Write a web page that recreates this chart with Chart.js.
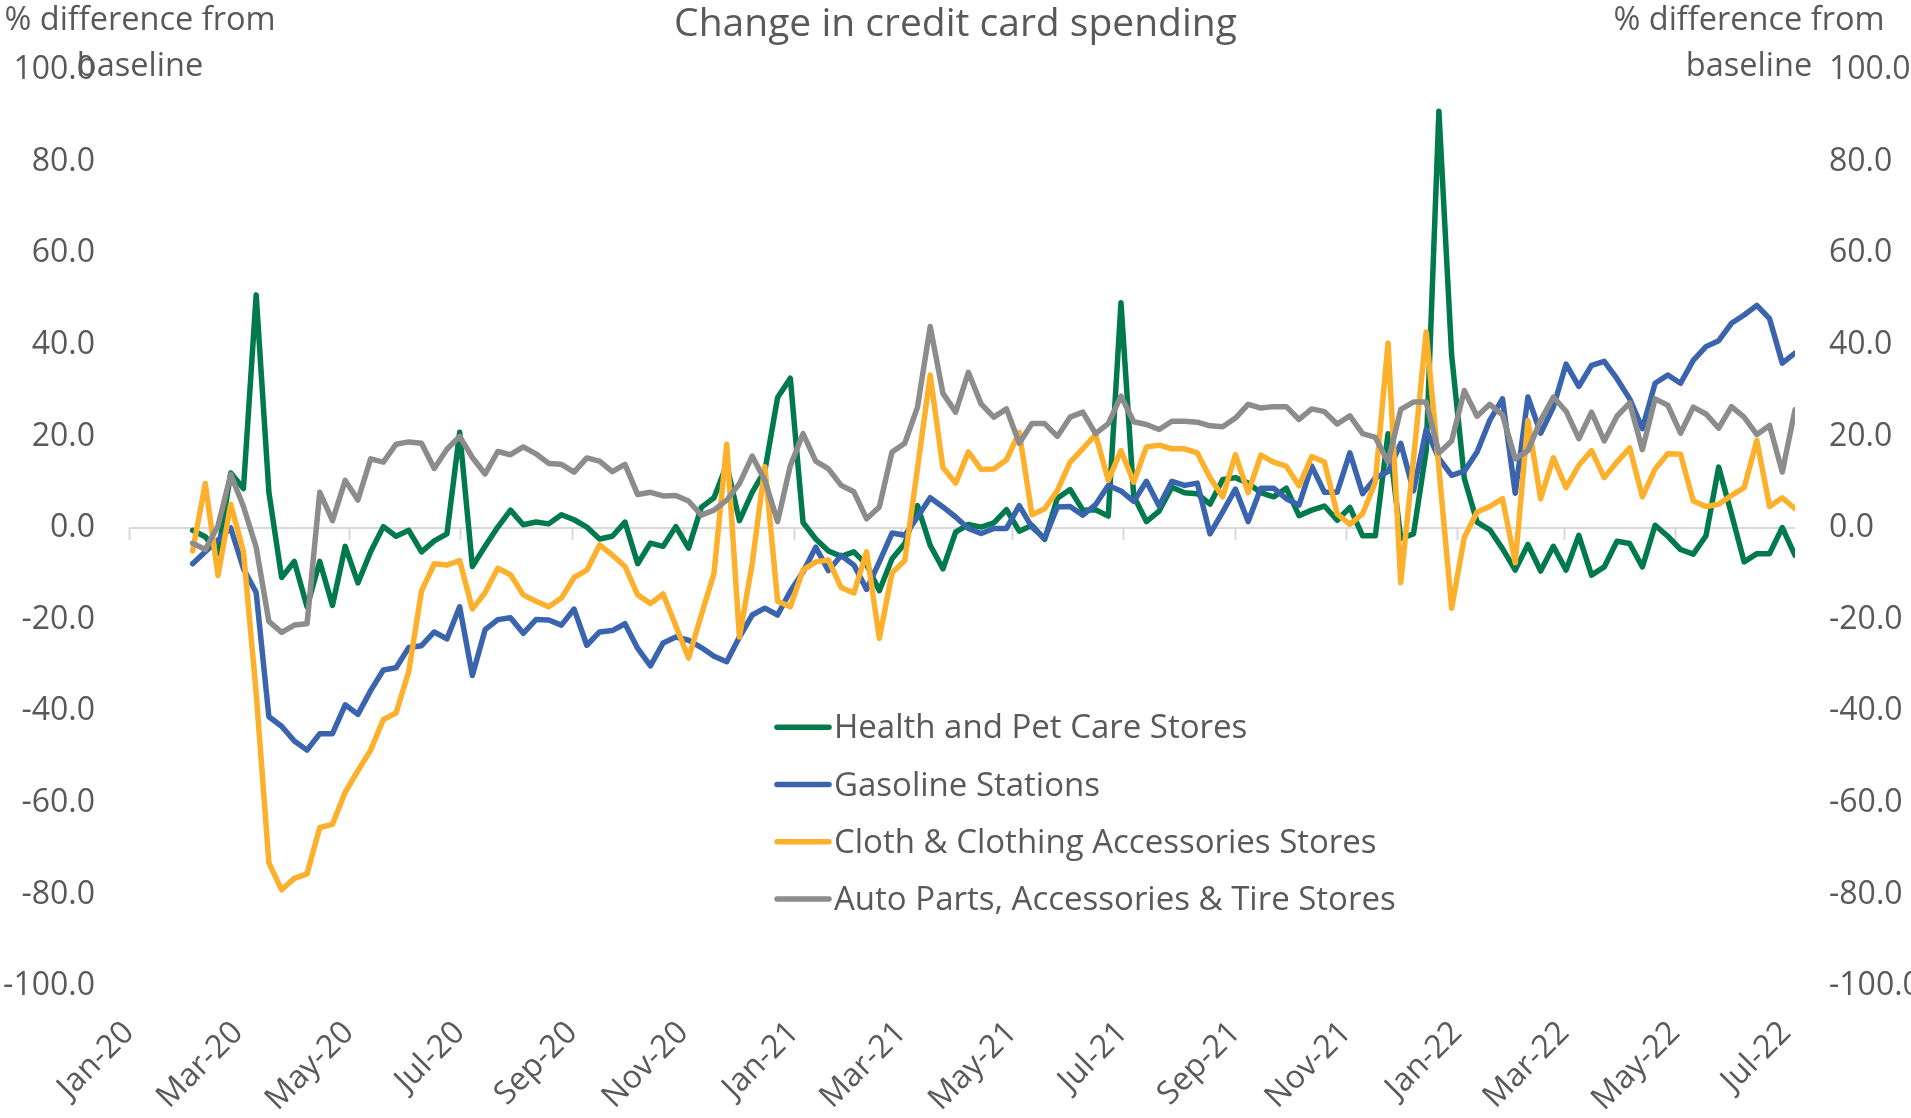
<!DOCTYPE html>
<html>
<head>
<meta charset="utf-8">
<script src="https://cdn.jsdelivr.net/npm/chart.js@4.4.1/dist/chart.umd.min.js"></script>
<style>
html,body{margin:0;padding:0;background:#ffffff;}
#wrap{width:1911px;height:1118px;position:relative;}
</style>
</head>
<body>
<div id="wrap"><canvas id="c"></canvas></div>
<script>
const chartTitle = 'Change in credit card spending';
const axisTitleLines = ['% difference from', 'baseline'];
const firstWeek = '2020-02-05';
const tickLabels = ['Jan-20','Mar-20','May-20','Jul-20','Sep-20','Nov-20','Jan-21','Mar-21','May-21','Jul-21','Sep-21','Nov-21','Jan-22','Mar-22','May-22','Jul-22'];
const yTicks = [-100,-80,-60,-40,-20,0,20,40,60,80,100];
const seriesNames = ['Health and Pet Care Stores','Gasoline Stations','Cloth & Clothing Accessories Stores','Auto Parts, Accessories & Tire Stores'];

const health = [-0.5,-1.9,-5.5,12.0,8.6,50.9,7.8,-10.8,-7.3,-17.2,-7.3,-16.9,-4.0,-12.0,-5.2,0.3,-1.8,-0.5,-5.2,-2.8,
  -1.3,20.9,-8.4,-4.0,0.2,3.9,0.7,1.3,0.9,2.9,1.8,0.2,-2.4,-1.8,1.3,-7.8,-3.3,-4.0,0.3,-4.4,
  4.5,6.6,13.8,1.6,7.8,12.5,28.5,32.7,1.2,-2.4,-5.0,-6.2,-5.2,-8.0,-13.7,-6.7,-3.4,4.9,-3.8,-8.9,
  -0.9,0.8,0.2,1.1,4.0,-0.7,0.6,-2.5,6.5,8.4,3.9,4.0,2.6,49.2,7.0,1.4,3.7,8.9,7.7,7.5,
  5.2,10.6,11.0,9.8,7.7,6.8,8.7,2.7,3.9,4.8,1.7,4.5,-1.7,-1.7,20.6,-2.3,-1.3,16.9,91.0,37.7,
  10.8,1.3,-0.4,-4.5,-9.2,-3.6,-9.4,-4.0,-9.2,-1.6,-10.3,-8.5,-2.9,-3.4,-8.5,0.6,-1.8,-4.7,-5.7,-1.7,
  13.3,3.1,-7.4,-5.6,-5.6,0.1,-6.0];
const gasoline = [-7.8,-5.2,-2.6,0.0,-8.9,-14.1,-41.2,-43.3,-46.5,-48.5,-44.9,-44.9,-38.6,-40.7,-35.5,-31.0,-30.5,-26.1,-25.7,-22.7,
  -24.2,-17.2,-32.2,-22.2,-20.0,-19.6,-23.0,-20.0,-20.1,-21.2,-17.7,-25.6,-22.7,-22.4,-20.9,-26.3,-30.1,-25.1,-23.8,-24.5,
  -26.1,-28.0,-29.2,-23.8,-19.0,-17.5,-19.0,-13.8,-9.6,-4.2,-9.3,-6.0,-8.1,-13.4,-7.4,-1.1,-1.6,2.4,6.6,4.6,
  2.4,-0.1,-1.2,-0.1,-0.1,4.9,0.2,-2.3,4.6,4.7,2.8,5.1,9.3,8.1,5.8,10.2,4.8,10.2,9.3,9.8,
  -1.3,3.5,8.5,1.4,8.7,8.7,6.4,5.0,13.5,7.8,7.8,16.4,7.5,10.9,12.3,18.5,8.1,21.5,15.2,11.5,
  12.4,16.6,23.5,28.2,7.6,28.6,20.7,26.4,35.8,30.9,35.5,36.4,32.6,28.2,21.7,31.6,33.4,31.6,36.6,39.6,
  40.9,44.7,46.5,48.6,45.7,36.0,38.2];
const clothing = [-5.0,9.7,-10.4,5.2,-5.2,-36.0,-73.1,-79.0,-76.5,-75.5,-65.4,-64.7,-57.7,-53.0,-48.5,-41.8,-40.4,-31.3,-13.8,-7.8,
  -8.1,-7.1,-17.7,-14.1,-8.8,-10.2,-14.6,-16.0,-17.2,-15.3,-10.8,-9.2,-3.7,-5.9,-8.4,-14.6,-16.5,-14.4,-21.4,-28.4,
  -19.0,-9.9,18.3,-23.8,-7.8,13.4,-16.0,-17.2,-9.2,-7.4,-7.0,-13.0,-14.2,-5.2,-24.1,-9.8,-7.1,13.0,33.4,13.2,
  9.8,16.6,12.8,12.9,14.9,20.9,2.9,4.2,8.2,14.4,17.3,20.4,10.4,16.9,10.0,17.7,18.1,17.3,17.3,16.4,
  11.0,6.8,16.0,7.7,15.9,14.4,13.5,9.2,15.6,14.4,3.1,0.8,3.1,10.0,40.4,-11.9,15.0,42.8,13.0,-17.5,
  -2.0,3.5,4.7,6.4,-7.6,23.5,6.4,15.3,8.8,13.7,16.9,11.0,14.4,17.5,6.8,12.9,16.2,16.1,5.9,4.7,
  5.2,7.1,8.8,19.1,4.7,6.6,4.2];
const autoParts = [-3.3,-4.7,0.5,11.7,4.7,-4.2,-20.4,-22.8,-21.2,-20.9,7.8,1.6,10.4,6.1,15.1,14.4,18.3,18.8,18.5,13.0,
  17.2,20.0,15.4,11.8,16.7,16.0,17.7,16.2,14.1,13.9,12.2,15.3,14.6,12.3,13.9,7.3,7.8,7.0,7.1,5.9,
  2.8,3.9,6.1,9.7,15.7,10.4,1.4,13.6,20.6,14.6,12.9,9.3,7.9,2.0,4.6,16.6,18.5,26.4,44.0,29.4,
  25.3,34.0,27.1,24.2,26.0,18.5,22.8,22.8,20.0,24.2,25.3,20.6,22.8,28.8,23.2,22.6,21.5,23.3,23.3,23.1,
  22.3,22.1,24.0,27.0,26.2,26.5,26.5,23.7,26.0,25.4,22.7,24.5,20.6,19.8,14.4,25.9,27.5,27.5,16.4,19.0,
  30.0,24.4,27.0,24.7,15.1,16.9,23.5,28.6,25.5,19.5,25.3,19.0,24.4,27.3,17.1,28.2,26.8,20.7,26.4,24.9,
  21.8,26.5,24.2,20.4,22.4,12.2,25.8];

const seriesColors = ['#00794C', '#3A64AE', '#FDB02B', '#8C8C8C'];
const seriesValues = [health, gasoline, clothing, autoParts];

const DAY = 86400000;
const epoch = Date.UTC(2020, 0, 1);
const monthIdx = {Jan:0,Feb:1,Mar:2,Apr:3,May:4,Jun:5,Jul:6,Aug:7,Sep:8,Oct:9,Nov:10,Dec:11};
const tickDays = tickLabels.map(l => {
  const [m, y] = l.split('-');
  return (Date.UTC(2000 + Number(y), monthIdx[m], 1) - epoch) / DAY;
});
const startDay = (Date.parse(firstWeek + 'T00:00:00Z') - epoch) / DAY;
const weekDays = health.map((_, i) => startDay + 7 * i);
const lastDay = weekDays[weekDays.length - 1];

const FONT = "'Open Sans', 'Noto Sans', sans-serif";
const TEXT = '#595959';

const overlayPlugin = {
  id: 'overlay',
  beforeDatasetsDraw(chart) {
    const ctx = chart.ctx;
    const xs = chart.scales.x, ys = chart.scales.y;
    const y0 = ys.getPixelForValue(0);
    ctx.save();
    ctx.strokeStyle = '#D9D9D9';
    ctx.lineWidth = 2;
    ctx.beginPath();
    ctx.moveTo(xs.left, y0);
    ctx.lineTo(xs.right, y0);
    tickDays.forEach(d => {
      const px = Math.round(xs.getPixelForValue(d)) + 0.5;
      ctx.moveTo(px, y0);
      ctx.lineTo(px, y0 + 12);
    });
    ctx.stroke();
    ctx.restore();
  },
  afterDraw(chart) {
    const ctx = chart.ctx;
    ctx.save();
    ctx.fillStyle = TEXT;
    ctx.textBaseline = 'alphabetic';
    ctx.textAlign = 'center';
    // chart title
    ctx.font = '39px ' + FONT;
    ctx.fillText(chartTitle, chart.width / 2, 36);
    // axis titles (left and right)
    ctx.font = '32.5px ' + FONT;
    [140, 1749].forEach(cx => {
      ctx.fillText(axisTitleLines[0], cx, 29.5);
      ctx.fillText(axisTitleLines[1], cx, 76);
    });
    // legend inside plot area
    ctx.font = '33px ' + FONT;
    ctx.textAlign = 'left';
    seriesNames.forEach((name, i) => {
      const y = 727.3 + i * 57.2;
      ctx.strokeStyle = seriesColors[i];
      ctx.lineWidth = 5.5;
      ctx.lineCap = 'round';
      ctx.beginPath();
      ctx.moveTo(777, y);
      ctx.lineTo(829, y);
      ctx.stroke();
      ctx.fillStyle = TEXT;
      ctx.fillText(name, 834, y + 11);
    });
    ctx.restore();
  }
};

const datasets = seriesNames.map((name, i) => ({
  label: name,
  data: seriesValues[i].map((v, k) => ({x: weekDays[k], y: v})),
  borderColor: seriesColors[i],
  backgroundColor: seriesColors[i],
  borderWidth: 5.5,
  pointRadius: 0,
  tension: 0,
  borderJoinStyle: 'round',
  borderCapStyle: 'round',
  fill: false,
  order: seriesNames.length - 1 - i
}));

const yAxisBase = (pos, width) => ({
  type: 'linear',
  position: pos,
  min: -100,
  max: 100,
  afterBuildTicks: s => { s.ticks = yTicks.map(v => ({value: v})); },
  afterFit: s => { s.width = width; },
  grid: {display: false, drawTicks: false},
  border: {display: false},
  ticks: {
    padding: 34,
    color: TEXT,
    font: {family: FONT, size: 32},
    callback: v => Number(v).toFixed(1)
  }
});

new Chart(document.getElementById('c'), {
  type: 'line',
  data: {datasets},
  plugins: [overlayPlugin],
  options: {
    responsive: true,
    maintainAspectRatio: false,
    animation: false,
    layout: {padding: {top: 70, left: 0, right: 0, bottom: 0}},
    plugins: {
      legend: {display: false},
      tooltip: {enabled: false},
      title: {display: false}
    },
    scales: {
      x: {
        type: 'linear',
        min: 0,
        max: lastDay,
        afterBuildTicks: s => { s.ticks = tickDays.map(v => ({value: v})); },
        afterFit: s => { s.height = 132; },
        grid: {display: false, drawTicks: false},
        border: {display: false},
        ticks: {
          autoSkip: false,
          maxRotation: 45,
          minRotation: 45,
          padding: 28,
          color: TEXT,
          font: {family: FONT, size: 32},
          callback: (v, i) => tickLabels[i]
        }
      },
      y: yAxisBase('left', 129),
      y2: yAxisBase('right', 116)
    }
  }
});
</script>
</body>
</html>
